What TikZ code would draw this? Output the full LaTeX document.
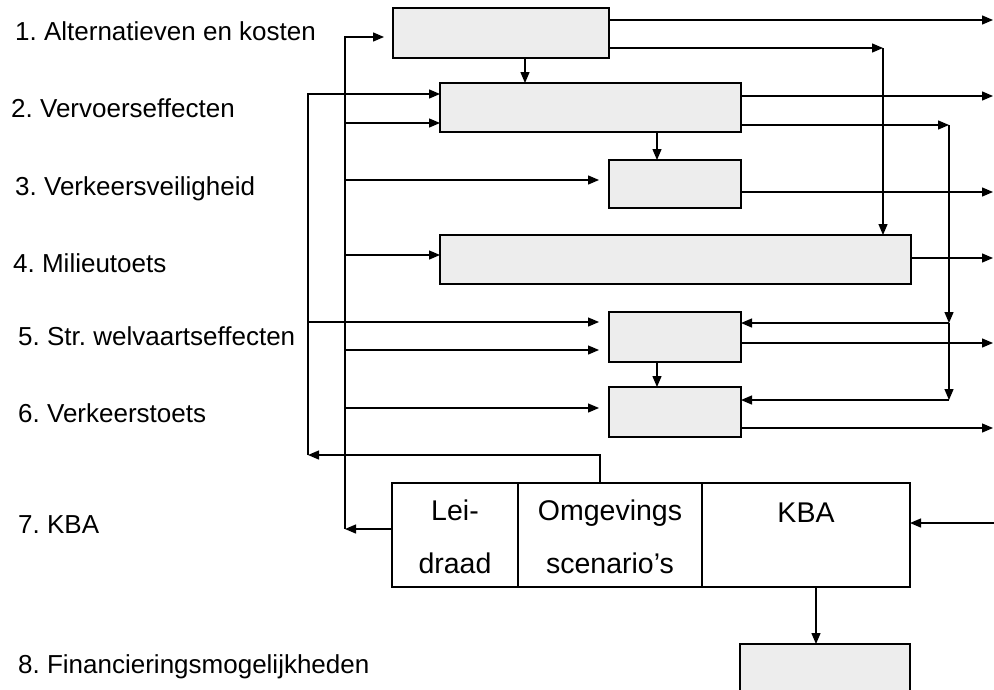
\documentclass[tikz,border=0pt]{standalone}
\usepackage{fontspec}
\setmainfont{Liberation Sans}
\usetikzlibrary{arrows.meta}
\frenchspacing
\begin{document}
\begin{tikzpicture}[x=1pt,y=-1pt,
  box/.style={draw, line width=1.5pt, fill=gray!14, anchor=north west, inner sep=0pt, outer sep=0pt},
  plainbox/.style={draw, line width=1.2pt, anchor=north west, inner sep=0pt, outer sep=0pt},
  conn/.style={line width=1.3pt, line join=miter},
  arr/.style={conn, -{Triangle[length=11pt,width=9pt]}},
  lbl/.style={anchor=base west, inner sep=0pt, font=\fontsize{26}{30}\selectfont},
  btxt/.style={anchor=base, inner sep=0pt, font=\fontsize{28.5}{33}\selectfont}]
\useasboundingbox (0,0) rectangle (994,689);
\clip (0,0) rectangle (994,689);

% left labels
\node[lbl] (l1) at (15,40) {1. Alternatieven en kosten};
\node[lbl] (l2) at (11,117) {2. Vervoerseffecten};
\node[lbl] (l3) at (15,195) {3. Verkeersveiligheid};
\node[lbl] (l4) at (13,272) {4. Milieutoets};
\node[lbl] (l5) at (18,345) {5. Str. welvaartseffecten};
\node[lbl] (l6) at (18,422) {6. Verkeerstoets};
\node[lbl] (l7) at (18,533) {7. KBA};
\node[lbl] (l8) at (18,673) {8. Financieringsmogelijkheden};

% shaded boxes
\node[box, minimum width=216pt, minimum height=50pt] (b1) at (393,8) {};
\node[box, minimum width=301pt, minimum height=49pt] (b2) at (440,83) {};
\node[box, minimum width=132pt, minimum height=48pt] (b3) at (609,160) {};
\node[box, minimum width=471pt, minimum height=49pt] (b4) at (440,235) {};
\node[box, minimum width=132pt, minimum height=50pt] (b5) at (609,312) {};
\node[box, minimum width=132pt, minimum height=50pt] (b6) at (609,387) {};
\node[box, minimum width=170pt, minimum height=80pt] (b8) at (740,644) {};

% KBA block
\node[plainbox, minimum width=126pt, minimum height=104pt] (lei) at (392,483) {};
\node[plainbox, minimum width=184pt, minimum height=104pt] (omg) at (518,483) {};
\node[plainbox, minimum width=208pt, minimum height=104pt] (kba) at (702,483) {};
\node[btxt] (t1) at (455,520) {Lei-};
\node[btxt] (t2) at (455,573) {draad};
\node[btxt] (t3) at (610,520) {Omgevings};
\node[btxt] (t4) at (610,573) {scenario’s};
\node[btxt] (t5) at (806,522) {KBA};

% coordinates
\coordinate (e1) at (993,20);
\coordinate (e2) at (993,96);
\coordinate (e3) at (993,192);
\coordinate (e4) at (993,258);
\coordinate (e5) at (993,343);
\coordinate (e6) at (993,428);
\coordinate (c1) at (883,48);
\coordinate (c2) at (949,125);
\coordinate (c5) at (949,323);
\coordinate (c6) at (949,400);
\coordinate (v1) at (525,0);
\coordinate (v2) at (657,0);
\coordinate (v3) at (816,0);
\coordinate (kin) at (994,523);
\coordinate (a0) at (600,455);
\coordinate (a1) at (308,455);
\coordinate (a2) at (308,94);
\coordinate (a5) at (308,322);
\coordinate (bb0) at (345,529);
\coordinate (bb1) at (345,37);
\coordinate (bb2) at (345,123);
\coordinate (bb3) at (345,180);
\coordinate (bb4) at (345,255);
\coordinate (bb5) at (345,350);
\coordinate (bb6) at (345,408);

% outputs to the right
\draw[arr] (b1.east |- e1) -- (e1);
\draw[arr] (b2.east |- e2) -- (e2);
\draw[arr] (b3.east |- e3) -- (e3);
\draw[arr] (b4.east |- e4) -- (e4);
\draw[arr] (b5.east |- e5) -- (e5);
\draw[arr] (b6.east |- e6) -- (e6);

% right feedback lines
\draw[arr] (b1.east |- c1) -- (c1);
\draw[arr] (c1) -- (c1 |- b4.north);
\draw[arr] (b2.east |- c2) -- (c2);
\draw[arr] (c2) -- (c5);
\draw[arr] (c5) -- (c6);
\draw[arr] (c5) -- (b5.east |- c5);
\draw[arr] (c6) -- (b6.east |- c6);

% internal vertical arrows
\draw[arr] (b1.south -| v1) -- (b2.north -| v1);
\draw[arr] (b2.south -| v2) -- (b3.north -| v2);
\draw[arr] (b5.south -| v2) -- (b6.north -| v2);
\draw[arr] (kba.south -| v3) -- (b8.north -| v3);
\draw[arr] (kin) -- (kba.east |- kin);

% outer left bus (from Omgevingsscenario's)
\draw[arr] (omg.north -| a0) -- (a0) -- (a1);
\draw[arr] (a1) -- (a2) -- (b2.west |- a2);
\draw[arr, shorten >=10pt] (a5) -- (b5.west |- a5);

% inner left bus (from Leidraad)
\draw[arr] (lei.west |- bb0) -- (bb0);
\draw[arr, shorten >=9pt] (bb0) -- (bb1) -- (b1.west |- bb1);
\draw[arr] (bb2) -- (b2.west |- bb2);
\draw[arr, shorten >=10pt] (bb3) -- (b3.west |- bb3);
\draw[arr] (bb4) -- (b4.west |- bb4);
\draw[arr, shorten >=10pt] (bb5) -- (b5.west |- bb5);
\draw[arr, shorten >=10pt] (bb6) -- (b6.west |- bb6);
\end{tikzpicture}
\end{document}
